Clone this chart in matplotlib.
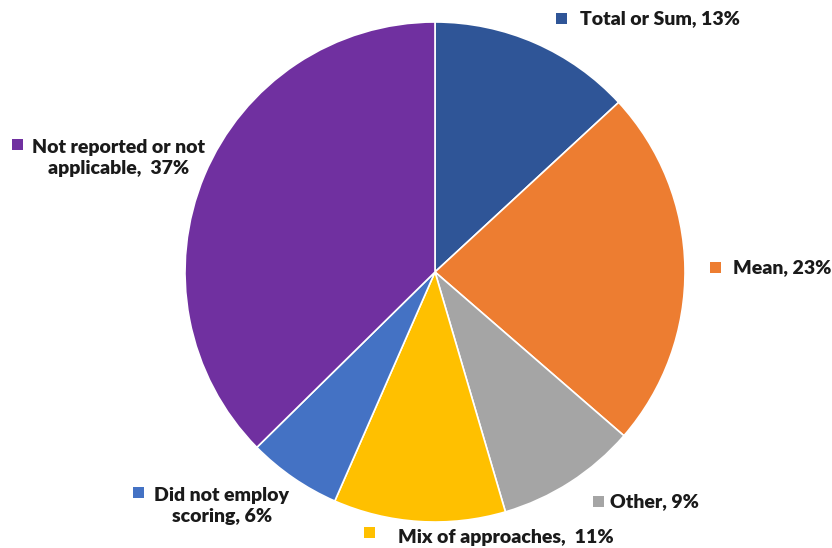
import matplotlib.pyplot as plt
from matplotlib.patches import Rectangle

categories = ["Total or Sum", "Mean", "Other", "Mix of approaches",
              "Did not employ scoring", "Not reported or not applicable"]
values = [13, 23, 9, 11, 6, 37]
colors = ["#2F5597", "#ED7D31", "#A5A5A5", "#FFC000", "#4472C4", "#7030A0"]
label_texts = ["Total or Sum, 13%", "Mean, 23%", "Other, 9%",
               "Mix of approaches,  11%", "Did not employ\nscoring, 6%",
               "Not reported or not\napplicable,  37%"]

W, H = 832, 548
fig = plt.figure(figsize=(W / 100, H / 100), dpi=100)
ax = fig.add_axes([0, 0, 1, 1])

def Y(py):
    return H - py

ax.pie(values, colors=colors, startangle=90, counterclock=False,
       center=(435, Y(272)), radius=250, frame=True,
       wedgeprops=dict(edgecolor="white", linewidth=1.2))
ax.set_xlim(0, W)
ax.set_ylim(0, H)
ax.set_aspect("auto")
ax.axis("off")

# (marker x, marker y, text x, text y, ha)
layout = [
    (561, 18, 580, 19, "left"),
    (715, 267, 733, 268, "left"),
    (598, 501, 610, 502, "left"),
    (369, 532, 398, 538, "left"),
    (138, 492, 222, 506, "center"),
    (17, 144, 119, 158, "center"),
]
font = dict(family=["Lato", "DejaVu Sans"], weight="heavy", size=14, color="#1a1a1a")
for (mx, my, tx, ty, ha), txt, c in zip(layout, label_texts, colors):
    ax.add_patch(Rectangle((mx - 5.5, Y(my) - 5.5), 11, 11, color=c, lw=0))
    ax.text(tx, Y(ty), txt, ha=ha, va="center", multialignment="center",
            linespacing=1.3, **font)

fig.savefig("out.png", dpi=100)
